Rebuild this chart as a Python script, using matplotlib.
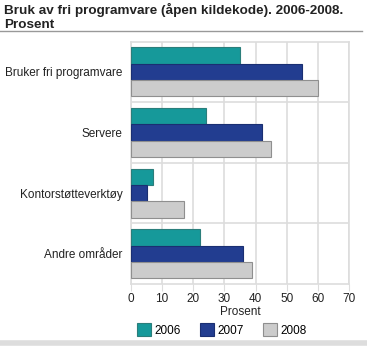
import matplotlib
matplotlib.use("Agg")
import numpy as np
from matplotlib import pyplot as plt
from matplotlib.patches import Patch
from matplotlib.lines import Line2D

# Data
kategorier = ["Bruker fri programvare", "Servere", "Kontorstøtteverktøy", "Andre områder"]
aar = ["2006", "2007", "2008"]
v2006 = [35, 24, 7, 22]
v2007 = [55, 42, 5, 36]
v2008 = [60, 45, 17, 39]
xticks = [0, 10, 20, 30, 40, 50, 60, 70]

farger = ["#16999a", "#223d90", "#cccccc"]
kanter = ["#2b7e7b", "#1a2f72", "#8f8f8f"]

plt.rcParams['font.family'] = ['Liberation Sans', 'DejaVu Sans']

W, H = 367, 346
fig = plt.figure(figsize=(W / 100, H / 100), dpi=100)

# plot area in pixels
x0, x1 = 131, 349
y0, y1 = 41.5, 284
ax = fig.add_axes([x0 / W, 1 - y1 / H, (x1 - x0) / W, (y1 - y0) / H])

y = np.arange(len(kategorier))
h = 0.27
for i, verdier in enumerate([v2006, v2007, v2008]):
    ax.barh(y + (i - 1) * h, verdier, height=h, color=farger[i],
            edgecolor=kanter[i], linewidth=0.8, zorder=3, label=aar[i])

ax.set_xlim(0, 70)
ax.set_ylim(len(kategorier) - 0.5, -0.5)
ax.set_xticks(xticks)
ax.set_yticks(y)
ax.set_yticklabels(kategorier, fontsize=8.5, color="#222222")
ax.tick_params(axis="y", length=0, pad=6)
ax.tick_params(axis="x", length=5, color="#dddddd", labelsize=8.5, labelcolor="#222222", pad=1.5)

# grid
ax.grid(axis="x", color="#dddddd", linewidth=1.2, zorder=0)
for g in np.arange(0.5, len(kategorier) - 0.5, 1):
    ax.axhline(g, color="#dddddd", linewidth=1.2, zorder=0)
for s in ax.spines.values():
    s.set_color("#dddddd")
    s.set_linewidth(1.2)

ax.set_xlabel("Prosent", fontsize=8.5, color="#222222", labelpad=1)

# legend
handles = [Patch(facecolor=farger[i], edgecolor=kanter[i], linewidth=0.8) for i in range(3)]
fig.legend(handles, aar, loc="center", bbox_to_anchor=(222 / W, 1 - 330 / H), ncol=3,
           frameon=False, fontsize=8.5, handlelength=1.2, handleheight=1.2,
           handletextpad=0.3, columnspacing=1.6, borderpad=0)

# title
fig.text(4 / W, 1 - 3 / H, "Bruk av fri programvare (åpen kildekode). 2006-2008.\nProsent",
         ha="left", va="top", fontsize=9.7, fontweight="bold", color="#222222", linespacing=1.2)
fig.add_artist(Line2D([0, 362 / W], [1 - 31 / H, 1 - 31 / H], color="#999999", linewidth=1))
fig.add_artist(Line2D([0, 1], [1 - 343 / H, 1 - 343 / H], color="#dddddd", linewidth=4))

fig.savefig("out.png", dpi=100)
